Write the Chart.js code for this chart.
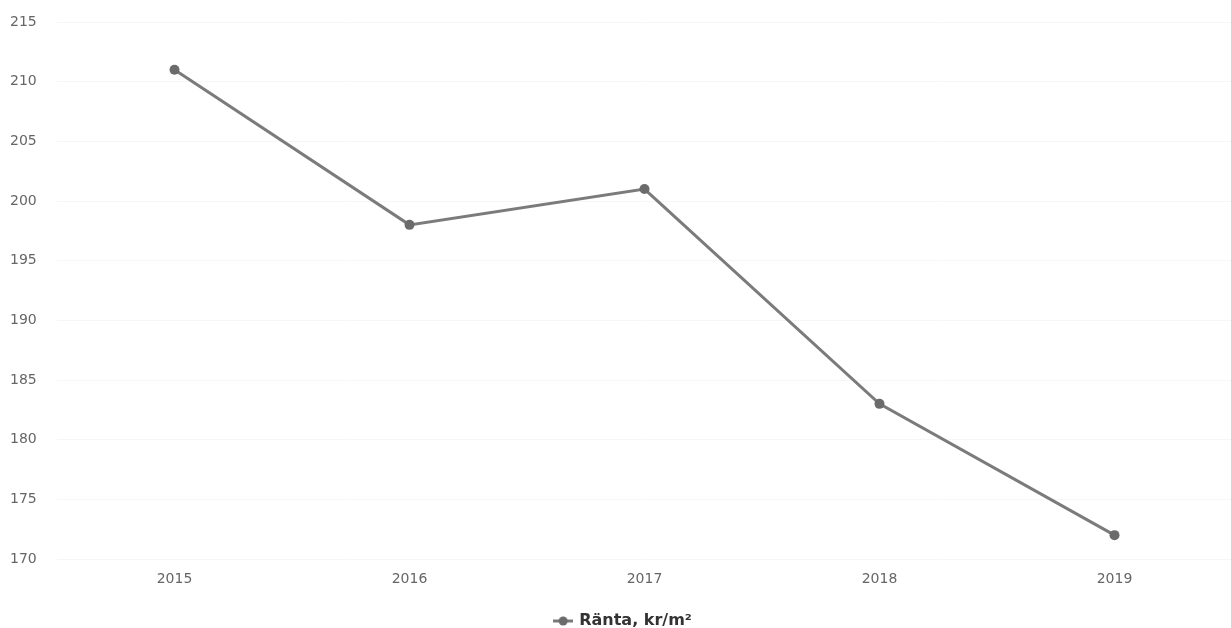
<!DOCTYPE html>
<html>
<head>
<meta charset="utf-8">
<script src="https://cdn.jsdelivr.net/npm/chart.js@4/dist/chart.umd.min.js"></script>
<style>
  html, body { margin: 0; padding: 0; background: #fff; overflow: hidden; }
  #wrap { width: 1237px; height: 628px; }
</style>
</head>
<body>
<div id="wrap"><canvas id="chart"></canvas></div>
<script>
const years = ['2015', '2016', '2017', '2018', '2019'];
const ranta = [211, 198, 201, 183, 172];
const seriesName = 'Ränta, kr/m²';

// legend marker: short line with a dot in the middle
function legendMarker() {
    const c = document.createElement('canvas');
    c.width = 20; c.height = 10;
    const g = c.getContext('2d');
    g.strokeStyle = '#7a7a7a';
    g.lineWidth = 3;
    g.beginPath(); g.moveTo(0, 5); g.lineTo(20, 5); g.stroke();
    g.fillStyle = '#6b6b6b';
    g.beginPath(); g.arc(10, 5, 4.5, 0, Math.PI * 2); g.fill();
    return c;
}
const marker = legendMarker();

Chart.defaults.font.family = '"DejaVu Sans", Verdana, sans-serif';
Chart.defaults.color = '#666';

new Chart(document.getElementById('chart'), {
    type: 'line',
    data: {
        labels: years,
        datasets: [{
            label: seriesName,
            data: ranta,
            borderColor: '#7b7b7b',
            backgroundColor: '#6b6b6b',
            borderWidth: 3,
            pointRadius: 5,
            pointBackgroundColor: '#6b6b6b',
            pointBorderWidth: 0,
            tension: 0
        }]
    },
    options: {
        responsive: true,
        maintainAspectRatio: false,
        animation: false,
        layout: { padding: { left: 10, top: 22, right: 0, bottom: -11 } },
        plugins: {
            legend: {
                position: 'bottom',
                labels: {
                    color: '#333',
                    font: { size: 16, weight: 'bold' },
                    generateLabels: (chart) => [{
                        text: seriesName,
                        pointStyle: marker,
                        datasetIndex: 0,
                        fontColor: '#333',
                        lineWidth: 0,
                        strokeStyle: 'transparent',
                        fillStyle: 'transparent'
                    }],
                    usePointStyle: true,
                    padding: 0
                }
            },
            tooltip: { enabled: false }
        },
        scales: {
            x: {
                offset: true,
                grid: { display: false },
                border: { display: false },
                ticks: { font: { size: 14 }, color: '#666', padding: 4 },
                afterFit: (s) => { s.height = 54; }
            },
            y: {
                min: 170,
                max: 215,
                grid: { color: 'rgba(0,0,0,0.035)', drawTicks: false },
                border: { display: false },
                ticks: { stepSize: 5, font: { size: 14 }, color: '#666', crossAlign: 'far', padding: 10 },
                afterFit: (s) => { s.width = 47; }
            }
        }
    }
});
</script>
</body>
</html>
